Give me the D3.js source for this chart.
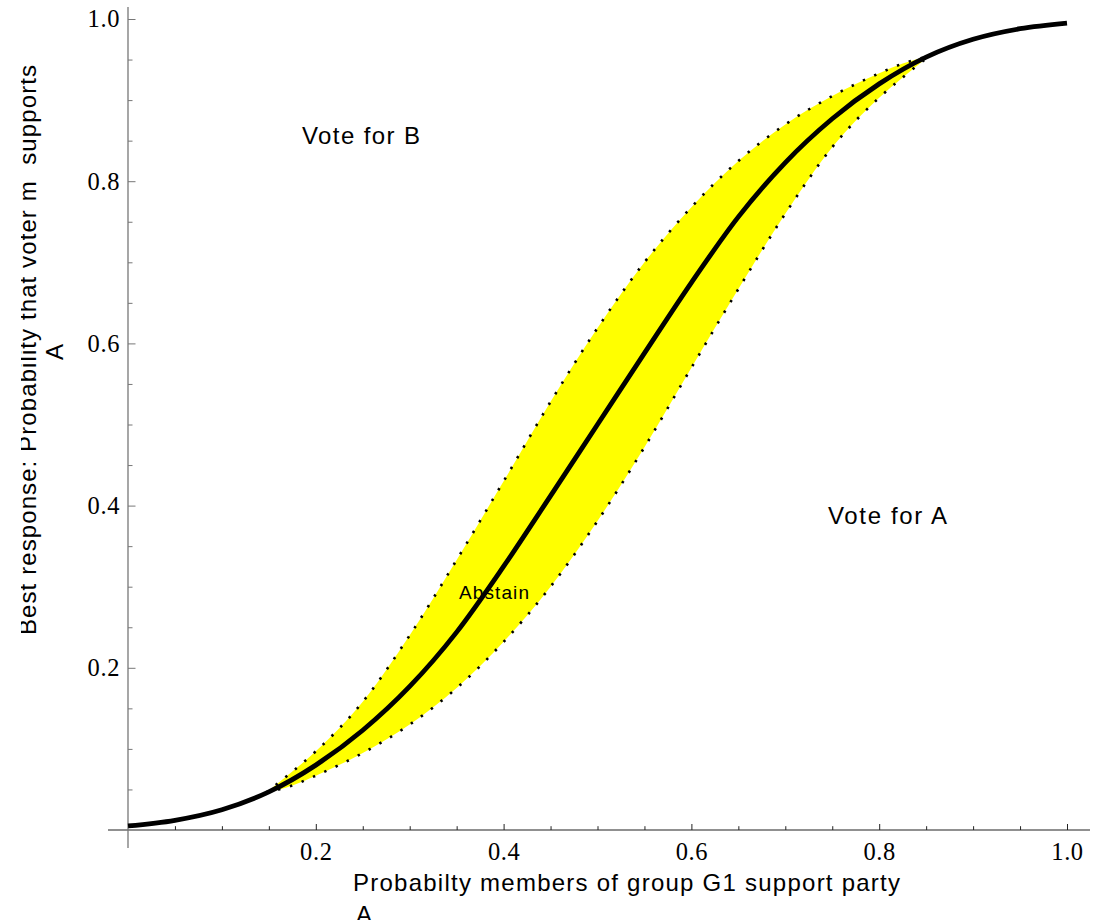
<!DOCTYPE html>
<html>
<head>
<meta charset="utf-8">
<script src="https://cdn.jsdelivr.net/npm/d3@7/dist/d3.min.js"></script>
<style>
  html, body { margin: 0; padding: 0; background: #fff; }
  svg { display: block; }
  .sans { font-family: "Liberation Sans", Arial, sans-serif; }
  .serif { font-family: "Liberation Serif", "Times New Roman", serif; }
</style>
</head>
<body>
<svg id="chart" width="1095" height="920"></svg>
<script>
// ---- data ----
const centerX = [0, 0.05, 0.10, 0.15, 0.20, 0.25, 0.30, 0.35, 0.40, 0.45, 0.50,
                 0.55, 0.60, 0.65, 0.70, 0.75, 0.80, 0.85, 0.90, 0.95, 1.00];
const centerY = [0.005, 0.012, 0.025, 0.047, 0.080, 0.123, 0.177, 0.244, 0.325, 0.412, 0.500,
                 0.588, 0.675, 0.756, 0.823, 0.877, 0.920, 0.953, 0.975, 0.988, 0.995];

const bandX     = [0.147, 0.175, 0.20, 0.25, 0.30, 0.35, 0.40, 0.45, 0.50, 0.55, 0.60, 0.65, 0.70, 0.75, 0.80, 0.825, 0.853];
const bandUpper = [0.046, 0.072, 0.097, 0.158, 0.240, 0.333, 0.430, 0.528, 0.619, 0.700, 0.768, 0.825, 0.870, 0.905, 0.933, 0.945, 0.954];
const bandLower = [0.046, 0.055, 0.067, 0.095, 0.130, 0.175, 0.232, 0.300, 0.381, 0.472, 0.570, 0.667, 0.760, 0.842, 0.903, 0.928, 0.954];

const majorTicks = [0.2, 0.4, 0.6, 0.8, 1.0];
const minorTicks = [0.05, 0.10, 0.15, 0.25, 0.30, 0.35, 0.45, 0.50, 0.55, 0.65, 0.70, 0.75, 0.85, 0.90, 0.95];

const xLabelLines = ["Probabilty members of group G1 support party", "A"];
const yLabelLines = ["Best response: Probability that voter m  supports", "A"];
const regionLabels = ["Vote for B", "Vote for A", "Abstain"];

// ---- drawing ----
const svg = d3.select("#chart");
const x = d3.scaleLinear().domain([0, 1]).range([128, 1067]);
const y = d3.scaleLinear().domain([0, 1]).range([830, 19]);

const center = centerX.map((v, i) => ({x: v, y: centerY[i]}));
const band = bandX.map((v, i) => ({x: v, hi: bandUpper[i], lo: bandLower[i]}));

// band fill
svg.append("path")
  .datum(band)
  .attr("fill", "#ffff00")
  .attr("d", d3.area().curve(d3.curveMonotoneX)
      .x(d => x(d.x)).y0(d => y(d.lo)).y1(d => y(d.hi)));

// dotted boundaries
const dotted = (key) => d3.line().curve(d3.curveMonotoneX).x(d => x(d.x)).y(d => y(d[key]));
["hi", "lo"].forEach(k => {
  svg.append("path")
    .datum(band)
    .attr("fill", "none")
    .attr("stroke", "#000")
    .attr("stroke-width", 2.6)
    .attr("stroke-dasharray", "2.4 10")
    .attr("d", dotted(k));
});

// axes
const gx = svg.append("g").attr("transform", `translate(0,${y(0)})`);
gx.append("line").attr("x1", x(0) - 20).attr("x2", x(1) + 23)
  .attr("y1", 0).attr("y2", 0).attr("stroke", "#222").attr("stroke-width", 1.2);
const xMajor = gx.append("g").call(d3.axisBottom(x).tickValues(majorTicks).tickSize(-6).tickPadding(13).tickFormat(d3.format(".1f")));
const xMinor = gx.append("g").call(d3.axisBottom(x).tickValues(minorTicks).tickSize(-3.8).tickFormat(""));
[xMajor, xMinor].forEach(g => { g.select(".domain").remove(); g.selectAll("line").attr("stroke", "#222"); });
xMajor.selectAll("text").attr("class", "serif").attr("font-family", null)
  .style("font-size", "24.5px").attr("fill", "#000").attr("letter-spacing", "0.6");

const gy = svg.append("g").attr("transform", `translate(${x(0)},0)`);
gy.append("line").attr("x1", 0).attr("x2", 0)
  .attr("y1", y(1) - 12).attr("y2", y(0) + 18).attr("stroke", "#777").attr("stroke-width", 1.3);
const yMajor = gy.append("g").call(d3.axisLeft(y).tickValues(majorTicks).tickSize(-7.5).tickPadding(8).tickFormat(d3.format(".1f")));
const yMinor = gy.append("g").call(d3.axisLeft(y).tickValues(minorTicks).tickSize(-4.5).tickFormat(""));
[yMajor, yMinor].forEach(g => { g.select(".domain").remove(); g.selectAll("line").attr("stroke", "#777"); });
yMajor.selectAll("text").attr("class", "serif").attr("font-family", null)
  .style("font-size", "24.5px").attr("fill", "#000").attr("letter-spacing", "0.6");

// center curve
svg.append("path")
  .datum(center)
  .attr("fill", "none")
  .attr("stroke", "#000")
  .attr("stroke-width", 4.8)
  .attr("d", d3.line().curve(d3.curveMonotoneX).x(d => x(d.x)).y(d => y(d.y)));

// region labels
const sans = (sel) => sel.attr("class", "sans").attr("fill", "#000").style("white-space", "pre");
sans(svg.append("text")).attr("x", 302).attr("y", 144).style("font-size", "24px")
  .attr("textLength", 118).attr("lengthAdjust", "spacing").text(regionLabels[0]);
sans(svg.append("text")).attr("x", 828).attr("y", 524).style("font-size", "24px")
  .attr("textLength", 119).attr("lengthAdjust", "spacing").text(regionLabels[1]);
sans(svg.append("text")).attr("x", 459).attr("y", 599).style("font-size", "19px")
  .attr("textLength", 70).attr("lengthAdjust", "spacing").text(regionLabels[2]);

// x axis label (second line runs off the bottom edge, as in the reference)
sans(svg.append("text")).attr("x", 353).attr("y", 891).style("font-size", "24px")
  .attr("textLength", 547).attr("lengthAdjust", "spacing").text(xLabelLines[0]);
sans(svg.append("text")).attr("x", 356).attr("y", 923).style("font-size", "24px").text(xLabelLines[1]);

// y axis label (rotated, top of glyphs clipped as in reference)
svg.append("clipPath").attr("id", "ylabclip")
  .append("rect").attr("x", 21).attr("y", 0).attr("width", 200).attr("height", 920);
const yl = svg.append("g").attr("clip-path", "url(#ylabclip)");
sans(yl.append("text")).attr("transform", "translate(36,635) rotate(-90)")
  .style("font-size", "24px").attr("textLength", 570).attr("lengthAdjust", "spacing").text(yLabelLines[0]);
sans(svg.append("text")).attr("transform", "translate(63,352) rotate(-90)")
  .attr("text-anchor", "middle").style("font-size", "24px").text(yLabelLines[1]);
</script>
</body>
</html>
